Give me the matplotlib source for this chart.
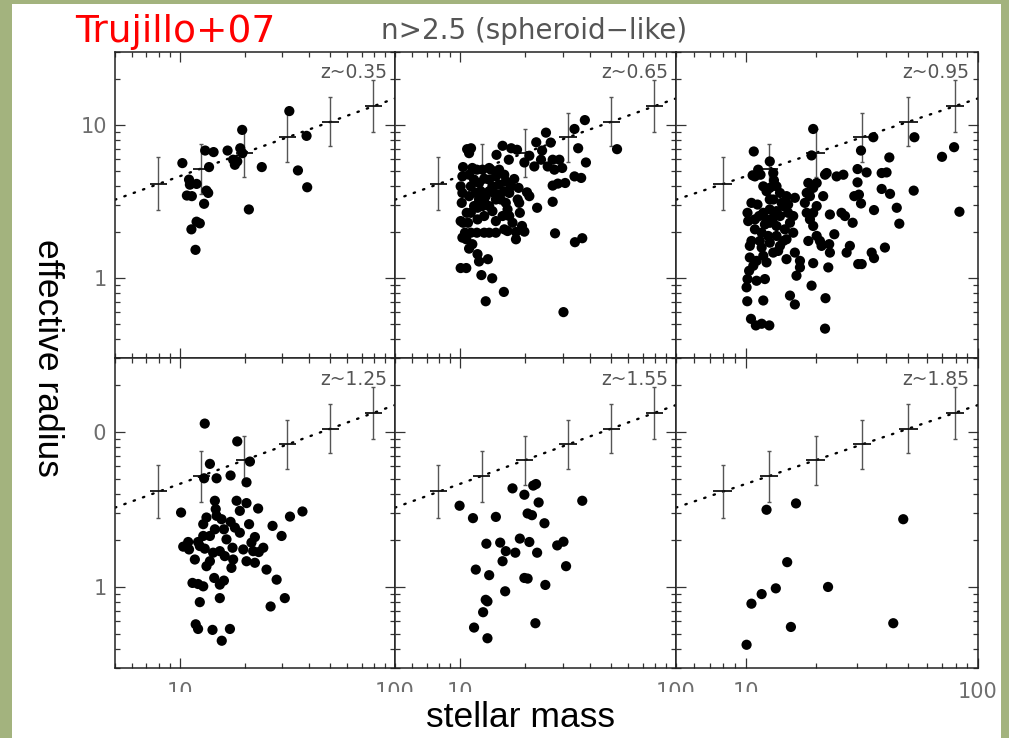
import numpy as np
import matplotlib
matplotlib.use("Agg")
import matplotlib.pyplot as plt
from matplotlib.patches import Rectangle
from matplotlib.ticker import NullFormatter, FixedLocator

# log10(stellar mass), log10(effective radius)
logm_z035 = [1.509, 1.290, 1.589, 1.012, 1.118, 1.157, 1.222, 1.281, 1.291, 1.248,
             1.256, 1.267, 1.136, 1.381, 1.549, 1.043, 1.047, 1.078, 1.124, 1.132,
             1.033, 1.056, 1.113, 1.321, 1.592, 1.078, 1.093, 1.054, 1.073]
logr_z035 = [1.091, 0.968, 0.929, 0.751, 0.833, 0.823, 0.833, 0.848, 0.816, 0.773,
             0.740, 0.762, 0.725, 0.725, 0.703, 0.643, 0.610, 0.615, 0.571, 0.556,
             0.539, 0.535, 0.485, 0.448, 0.593, 0.368, 0.357, 0.318, 0.184]

logm_z065 = [1.578, 1.398, 1.530, 1.727, 1.547, 1.583, 1.353, 1.380, 1.420, 1.197,
             1.237, 1.264, 1.169, 1.226, 1.298, 1.321, 1.344, 1.375, 1.406, 1.429,
             1.460, 1.473, 1.437, 1.487, 1.530, 1.561, 1.429, 1.453, 1.310, 1.321,
             1.357, 1.429, 1.440, 1.532, 1.566, 1.479, 1.119, 1.203, 1.149, 1.099,
             1.129, 1.088, 1.029, 1.003, 1.081, 1.042, 1.029, 1.011, 1.057, 1.033,
             1.051, 1.042, 1.014, 1.011, 1.003, 1.011, 1.008, 1.003, 1.014, 1.037,
             1.031, 1.023, 1.050, 1.078, 1.112, 1.135, 1.166, 1.220, 1.259, 1.259,
             1.298, 1.287, 1.277, 1.274, 1.267, 1.271, 1.251, 1.205, 1.181, 1.166,
             1.143, 1.135, 1.104, 1.078, 1.057, 1.042, 1.065, 1.088, 1.112, 1.135,
             1.150, 1.158, 1.181, 1.205, 1.228, 1.212, 1.189, 1.166, 1.135, 1.104,
             1.081, 1.065, 1.050, 1.081, 1.112, 1.150, 1.166, 1.197, 1.228, 1.243,
             1.205, 1.220, 1.042, 1.073, 1.096, 1.119, 1.135, 1.088, 1.112, 1.050,
             1.181, 1.212, 1.236]
logr_z065 = [1.032, 0.950, 0.974, 0.842, 0.848, 0.755, 0.887, 0.833, 0.885, 0.864,
             0.848, 0.838, 0.805, 0.773, 0.755, 0.799, 0.729, 0.773, 0.729, 0.773,
             0.773, 0.719, 0.708, 0.621, 0.664, 0.654, 0.604, 0.617, 0.560, 0.535,
             0.459, 0.498, 0.292, 0.234, 0.260, -0.223, -0.152, -0.091, -0.002, 0.019,
             0.123, 0.108, 0.065, 0.065, 0.156, 0.192, 0.253, 0.264, 0.221, 0.842,
             0.848, 0.816, 0.725, 0.664, 0.599, 0.556, 0.491, 0.372, 0.361, 0.361,
             0.426, 0.296, 0.296, 0.296, 0.296, 0.296, 0.296, 0.307, 0.253, 0.301,
             0.303, 0.340, 0.426, 0.491, 0.513, 0.589, 0.647, 0.675, 0.708, 0.664,
             0.708, 0.719, 0.708, 0.708, 0.719, 0.675, 0.643, 0.621, 0.649, 0.643,
             0.599, 0.556, 0.545, 0.567, 0.556, 0.491, 0.513, 0.513, 0.470, 0.470,
             0.459, 0.470, 0.426, 0.383, 0.405, 0.437, 0.372, 0.405, 0.405, 0.361,
             0.318, 0.448, 0.535, 0.556, 0.567, 0.535, 0.567, 0.513, 0.502, 0.599,
             0.610, 0.632, 0.599]

logm_z095 = [1.290, 1.034, 1.549, 1.726, 1.897, 1.845, 1.920, 1.618, 1.496, 1.283,
             1.103, 1.029, 1.053, 1.063, 1.118, 1.121, 1.075, 1.103, 1.132, 1.147,
             1.175, 1.211, 1.024, 1.050, 1.007, 1.010, 1.039, 1.075, 1.103, 1.132,
             1.161, 1.182, 1.204, 1.190, 1.168, 1.132, 1.103, 1.082, 1.068, 1.096,
             1.132, 1.161, 1.204, 1.024, 1.017, 1.017, 1.068, 1.075, 1.089, 1.139,
             1.175, 1.211, 1.233, 1.233, 1.218, 1.269, 1.262, 1.254, 1.276, 1.290,
             1.305, 1.341, 1.348, 1.391, 1.420, 1.262, 1.276, 1.290, 1.269, 1.319,
             1.359, 1.362, 1.355, 1.290, 1.283, 1.343, 1.190, 1.211, 1.341, 1.014,
             1.007, 1.003, 1.046, 1.082, 1.006, 1.075, 1.022, 1.043, 1.068, 1.101,
             1.333, 1.362, 1.412, 1.427, 1.381, 1.460, 1.448, 1.434, 1.484, 1.499,
             1.542, 1.552, 1.599, 1.481, 1.520, 1.481, 1.467, 1.487, 1.496, 1.552,
             1.585, 1.606, 1.585, 1.621, 1.650, 1.661, 1.723, 1.039, 1.089, 1.118,
             1.154, 1.182, 1.103, 1.057, 1.089, 1.118, 1.147, 1.039, 1.103, 1.060,
             1.118, 1.032, 1.046, 1.147, 1.175, 1.305, 1.326, 1.305, 1.290]
logr_z095 = [0.974, 0.827, 0.920, 0.920, 0.855, 0.792, 0.433, 0.788, 0.833, 0.801,
             0.762, 0.671, 0.708, 0.675, 0.686, 0.638, 0.599, 0.589, 0.599, 0.556,
             0.535, 0.524, 0.491, 0.480, 0.426, 0.372, 0.383, 0.426, 0.448, 0.437,
             0.470, 0.426, 0.405, 0.361, 0.318, 0.340, 0.361, 0.350, 0.296, 0.275,
             0.275, 0.242, 0.296, 0.242, 0.210, 0.134, 0.199, 0.145, 0.102, 0.177,
             0.123, 0.166, 0.112, 0.069, 0.015, 0.621, 0.556, 0.491, 0.535, 0.589,
             0.621, 0.675, 0.686, 0.664, 0.675, 0.426, 0.383, 0.340, 0.242, 0.242,
             0.221, 0.166, 0.069, 0.097, -0.050, -0.132, -0.115, -0.173, -0.331, 0.047,
             -0.007, -0.061, -0.018, -0.007, -0.152, -0.147, -0.267, -0.310, -0.299, -0.310,
             0.535, 0.415, 0.426, 0.405, 0.286, 0.361, 0.210, 0.166, 0.091, 0.091,
             0.166, 0.130, 0.199, 0.712, 0.690, 0.625, 0.535, 0.545, 0.487, 0.444,
             0.686, 0.690, 0.582, 0.550, 0.459, 0.355, 0.571, 0.664, 0.567, 0.513,
             0.491, 0.480, 0.513, 0.405, 0.383, 0.394, 0.405, 0.318, 0.231, 0.242,
             0.166, 0.080, 0.112, 0.210, 0.253, 0.275, 0.210, 0.470, 0.426]

logm_z125 = [1.116, 1.267, 1.326, 1.140, 1.113, 1.171, 1.236, 1.310, 1.006, 1.163,
             1.264, 1.310, 1.364, 1.124, 1.167, 1.109, 1.171, 1.194, 1.163, 1.205,
             1.236, 1.256, 1.322, 1.349, 1.279, 1.431, 1.473, 1.512, 1.570, 1.016,
             1.043, 1.039, 1.085, 1.093, 1.116, 1.186, 1.209, 1.245, 1.295, 1.310,
             1.341, 1.367, 1.349, 1.140, 1.124, 1.240, 1.403, 1.450, 1.059, 1.085,
             1.109, 1.160, 1.186, 1.205, 1.093, 1.186, 1.488, 1.422, 1.074, 1.085,
             1.152, 1.233, 1.195, 1.140, 1.109, 1.217, 1.279, 1.333, 1.388, 1.248,
             1.155, 1.070]
logr_z125 = [1.054, 0.939, 0.809, 0.794, 0.701, 0.701, 0.719, 0.675, 0.480, 0.556,
             0.556, 0.541, 0.506, 0.448, 0.502, 0.405, 0.459, 0.437, 0.372, 0.372,
             0.420, 0.383, 0.405, 0.322, 0.491, 0.394, 0.329, 0.454, 0.487, 0.260,
             0.242, 0.290, 0.290, 0.264, 0.247, 0.231, 0.199, 0.253, 0.242, 0.166,
             0.231, 0.225, 0.156, 0.166, 0.134, 0.123, 0.112, 0.047, 0.026, 0.019,
             0.004, 0.058, 0.015, 0.041, -0.098, -0.072, -0.072, -0.126, -0.241, -0.271,
             -0.277, -0.271, -0.347, 0.329, 0.329, 0.307, 0.350, 0.286, 0.253, 0.177,
             0.221, 0.177]

logm_z155 = [0.998, 1.060, 1.166, 1.243, 1.298, 1.339, 1.352, 1.364, 1.313, 1.333,
             1.391, 1.566, 1.122, 1.186, 1.212, 1.256, 1.277, 1.321, 1.357, 1.450,
             1.479, 1.491, 1.197, 1.073, 1.135, 1.298, 1.313, 1.395, 1.209, 1.119,
             1.127, 1.107, 1.065, 1.127, 1.349]
logr_z155 = [0.524, 0.444, 0.452, 0.636, 0.595, 0.654, 0.664, 0.545, 0.474, 0.463,
             0.411, 0.556, 0.279, 0.286, 0.231, 0.221, 0.312, 0.290, 0.221, 0.268,
             0.292, 0.134, 0.166, 0.112, 0.076, 0.058, 0.054, 0.013, -0.028, -0.083,
             -0.093, -0.163, -0.262, -0.331, -0.234]

logm_z185 = [1.089, 1.216, 1.678, 1.178, 1.129, 1.068, 1.024, 1.354, 1.194, 1.635, 1.003]
logr_z185 = [0.498, 0.539, 0.437, 0.160, -0.009, -0.046, -0.108, 0.000, -0.258, -0.234, -0.373]

# local reference relation (crosses with error bars), same in every panel
ref_logm = np.array([0.9, 1.1, 1.3, 1.5, 1.7, 1.9])
ref_logr = np.array([0.617, 0.713, 0.816, 0.920, 1.022, 1.123])
ref_err = np.array([0.172, 0.163, 0.156, 0.160, 0.160, 0.170])

labels = ["z~0.35", "z~0.65", "z~0.95", "z~1.25", "z~1.55", "z~1.85"]
panels = [(logm_z035, logr_z035), (logm_z065, logr_z065), (logm_z095, logr_z095),
          (logm_z125, logr_z125), (logm_z155, logr_z155), (logm_z185, logr_z185)]

W, H = 1009, 738
fig = plt.figure(figsize=(W / 100, H / 100), dpi=100, facecolor="#a3b37e")
# white slide area
fig.patches.append(Rectangle((12 / W, 0), (1001 - 12) / W, (738 - 4) / H,
                             transform=fig.transFigure, facecolor="white",
                             edgecolor="none", zorder=-2))

cols = [(115, 395), (395, 676), (676, 978)]
rows = [(52, 358), (358, 668)]

fit = np.polyfit(ref_logm, ref_logr, 1)
xx = np.log10([5, 100])

for i, (lab, (lm, lr)) in enumerate(zip(labels, panels)):
    r, c = divmod(i, 3)
    x0, x1 = cols[c]
    y0, y1 = rows[r]
    ax = fig.add_axes([x0 / W, 1 - y1 / H, (x1 - x0) / W, (y1 - y0) / H])
    ax.set_facecolor("white")
    ax.set_xscale("log")
    ax.set_yscale("log")

    ax.plot(10 ** xx, 10 ** np.polyval(fit, xx), color="k", lw=1.7,
            ls=(0, (0.6, 3.6)), dash_capstyle="round", zorder=2)

    mx, my = 10 ** ref_logm, 10 ** ref_logr
    ax.errorbar(mx, my, yerr=[my - 10 ** (ref_logr - ref_err), 10 ** (ref_logr + ref_err) - my],
                fmt="none", ecolor="#555555", elinewidth=1.0, capsize=1.5, capthick=1.0, zorder=2)
    ax.errorbar(mx, my, xerr=[mx - 10 ** (ref_logm - 0.04), 10 ** (ref_logm + 0.04) - mx],
                fmt="none", ecolor="#111111", elinewidth=1.3, capsize=0, zorder=2)

    ax.scatter(10 ** np.array(lm), 10 ** np.array(lr), s=54, color="k",
               edgecolors="none", zorder=3)

    ax.set_xlim(5, 100)
    ax.set_ylim(0.3, 30)

    ax.xaxis.set_major_locator(FixedLocator([10, 100]))
    ax.yaxis.set_major_locator(FixedLocator([1, 10]))
    ax.xaxis.set_minor_formatter(NullFormatter())
    ax.yaxis.set_minor_formatter(NullFormatter())
    ax.tick_params(which="both", direction="in", top=True, right=True,
                   color="#333333", width=0.9, labelcolor="#6e6e6e", labelsize=15)
    ax.tick_params(which="major", length=7)
    ax.tick_params(which="minor", length=3.5)
    ax.tick_params(axis="y", pad=5.5)
    ax.tick_params(axis="x", pad=10)

    if c == 0:
        ax.set_yticklabels(["1", "10"])
    else:
        ax.tick_params(labelleft=False)
    if r == 1:
        ax.set_xticklabels(["10", "100"])
    else:
        ax.tick_params(labelbottom=False)

    for sp in ax.spines.values():
        sp.set_color("#222222")
        sp.set_linewidth(1.1)

    ax.text(0.972, 0.932, lab, transform=ax.transAxes, ha="right", va="center",
            fontsize=13.5, color="#555555", family="DejaVu Sans")

# text boxes of the slide that sit over parts of the figure
fig.patches.append(Rectangle((20 / W, 1 - 488 / H), (93 - 20) / W, (488 - 228) / H,
                             transform=fig.transFigure, facecolor="white",
                             edgecolor="none", zorder=5))
fig.patches.append(Rectangle((140 / W, 0), (950 - 140) / W, (738 - 692) / H,
                             transform=fig.transFigure, facecolor="white",
                             edgecolor="none", zorder=5))

fig.text(75 / W, 1 - 42 / H, "Trujillo+07", color="red", fontsize=27,
         family="DejaVu Sans", ha="left", va="baseline", zorder=6)
fig.text(534 / W, 1 - 39 / H, "n>2.5 (spheroid\u2212like)", color="#555555",
         fontsize=20, family="DejaVu Sans", ha="center", va="baseline", zorder=6)
fig.text(520 / W, 1 - 727 / H, "stellar mass", color="black", fontsize=25.5,
         family="Liberation Sans", ha="center", va="baseline", zorder=6)
fig.text(47 / W, 1 - 358 / H, "effective radius", color="black", fontsize=25.5,
         family="Liberation Sans", rotation=270, ha="center", va="center", zorder=6)

fig.savefig("out.png", dpi=100, facecolor=fig.get_facecolor())
